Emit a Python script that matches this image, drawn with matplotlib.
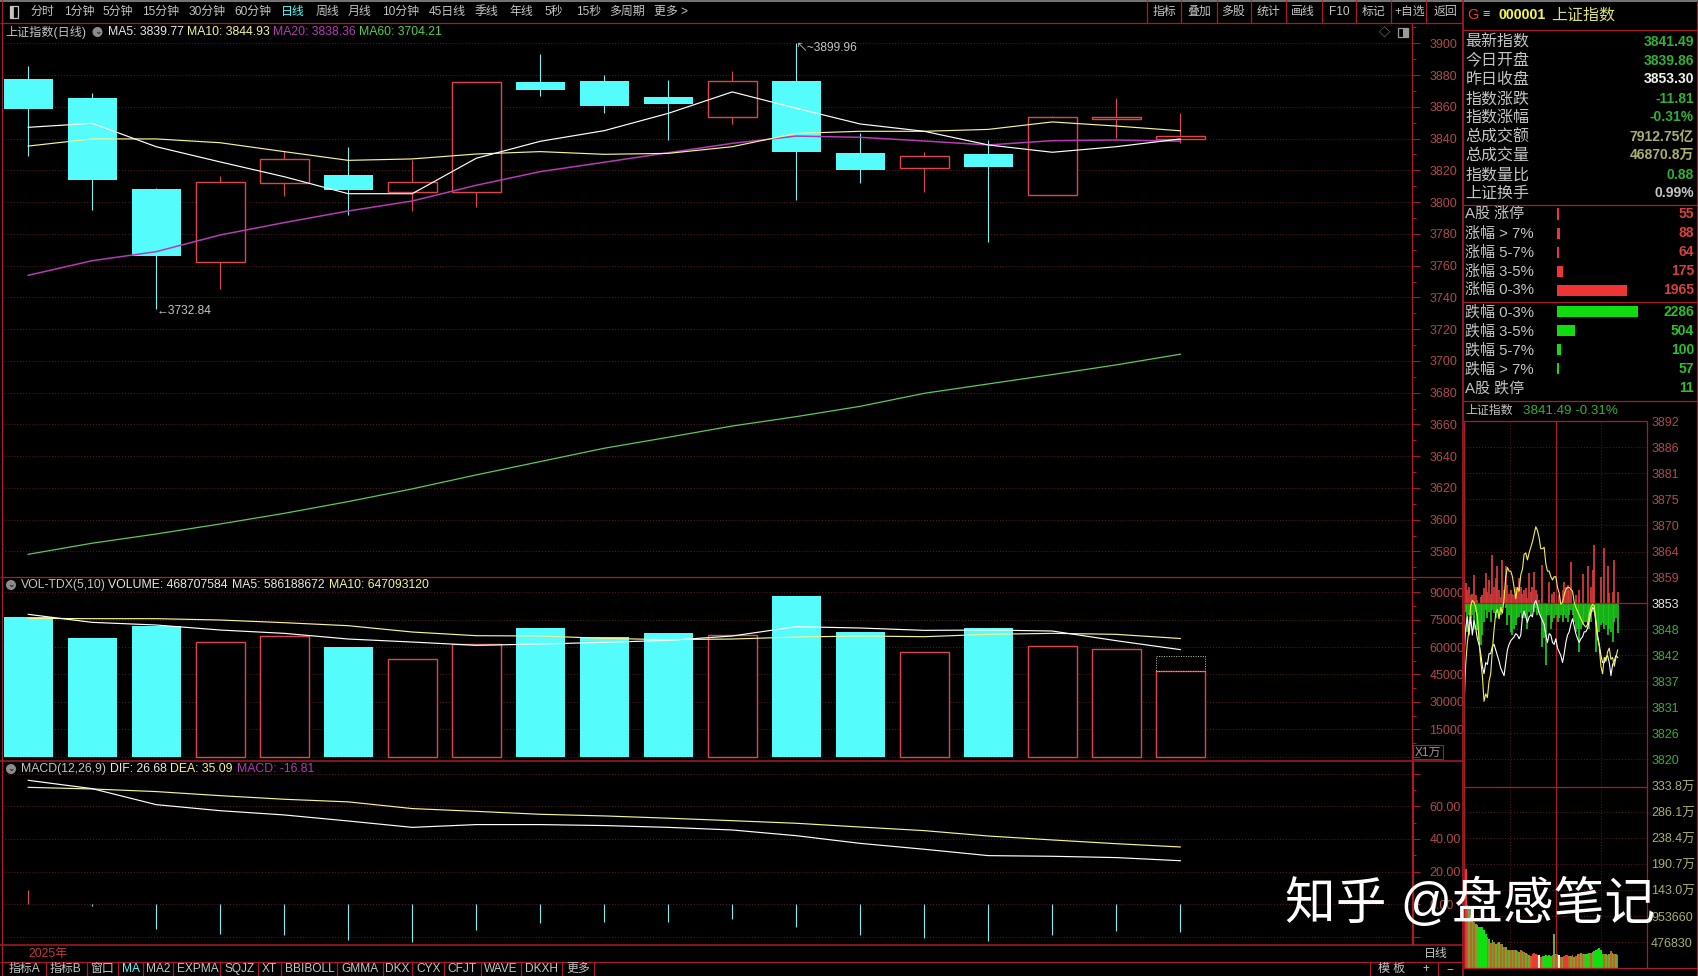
import numpy as np
import matplotlib
matplotlib.use("Agg")
import matplotlib.pyplot as plt
from matplotlib.ticker import MultipleLocator
from matplotlib.patches import Rectangle, Circle

plt.rcParams['font.family'] = ['Liberation Sans', 'Noto Sans CJK SC', 'DejaVu Sans']

# ---------- daily candles ----------
opens  = [3877.5,3865.6,3808.3,3762.1,3811.8,3817.1,3806.6,3806.2,3875.7,3876.3,3866.2,3853.8,3876.3,3830.9,3821.7,3830.3,3804.3,3852.1,3839.86]
closes = [3858.9,3814.1,3766.3,3812.5,3827.0,3807.6,3812.5,3875.4,3870.6,3860.5,3861.8,3876.1,3831.8,3820.2,3828.8,3822.3,3853.4,3853.4,3841.49]
highs  = [3885.7,3868.5,3808.8,3816.5,3832.4,3834.7,3826.3,3875.4,3893.3,3880.1,3876.9,3882.8,3899.96,3843.3,3831.4,3839.1,3854.0,3865.8,3856.3]
lows   = [3829.3,3795.0,3732.84,3745.3,3804.1,3791.9,3794.4,3797.1,3866.8,3856.3,3839.1,3849.2,3801.3,3812.3,3806.4,3775.1,3804.3,3840.2,3837.4]
ma5    = [3847.1,3849.6,3834.9,3825.3,3816.0,3805.3,3805.3,3827.6,3838.3,3845.0,3855.9,3869.4,3859.1,3849.2,3844.6,3836.0,3831.4,3834.9,3839.77]
ma10   = [3835.3,3839.8,3839.8,3837.4,3831.8,3826.3,3827.2,3830.3,3831.8,3830.1,3830.7,3834.9,3843.3,3844.6,3844.6,3845.8,3850.5,3847.9,3844.93]
ma20   = [3753.9,3763.1,3768.8,3779.3,3787.1,3794.4,3800.7,3810.6,3819.2,3825.1,3831.1,3837.0,3841.6,3840.8,3838.5,3836.0,3838.7,3839.1,3838.36]
ma60   = [3578.2,3585.2,3591.0,3597.3,3604.0,3611.4,3619.4,3628.2,3636.6,3645.0,3651.9,3659.0,3664.9,3671.4,3679.6,3685.5,3691.4,3697.5,3704.21]

# ---------- volume (x1万) ----------
volume = [76460,64960,71720,62770,66060,60040,53290,61680,70440,65330,67700,66600,87960,68250,57120,70440,60400,58760,46870]
vol_estimate = 54930
vol_ma5  = [77930,73550,72090,69350,67530,64420,62780,60960,61690,62600,63690,66070,71180,70450,69170,69350,68800,63510,58619]
vol_ma10 = [75740,75560,75560,74830,73370,71720,68260,66250,66070,64790,64060,64420,65520,66070,65700,66980,67530,66980,64709]

# ---------- MACD ----------
dif  = [75.9,70.8,61.0,57.3,54.7,51.0,47.1,48.8,48.8,48.2,47.1,45.5,42.0,37.3,33.7,29.8,29.4,28.6,26.68]
dea  = [71.6,70.6,69.0,66.5,64.3,62.7,58.6,56.9,55.1,54.1,52.7,51.2,49.6,47.3,45.1,41.8,39.4,37.1,35.09]
macd = [8.8,-1.0,-15.1,-18.2,-18.8,-21.9,-22.9,-15.7,-11.2,-10.6,-10.6,-8.9,-13.7,-18.8,-20.4,-22.2,-18.8,-16.4,-16.81]

# ---------- intraday ----------
prev_close = 3853.3
intraday_yellow = [3830.7,3840.2,3844.9,3847.6,3852.8,3853.9,3853.5,3852.4,3850.4,3845.7,3840.9,3837.8,3832.3,3833.9,3833.1,3836.6,3838.2,3843.3,3847.6,3851.2,3852.0,3850.0,3852.4,3851.2,3854.3,3859.0,3861.0,3860.2,3860.2,3859.0,3856.7,3854.3,3856.7,3855.9,3859.4,3860.6,3863.8,3864.1,3862.6,3864.1,3865.3,3866.5,3868.1,3869.7,3868.9,3867.3,3865.0,3865.0,3865.3,3861.8,3860.2,3860.2,3859.0,3858.3,3859.0,3859.0,3856.7,3855.5,3853.1,3853.5,3855.1,3856.3,3856.7,3856.7,3856.3,3855.9,3853.5,3852.4,3851.6,3850.8,3850.0,3849.2,3848.6,3848.2,3848.8,3850.8,3852.4,3853.1,3852.8,3848.8,3845.7,3844.1,3839.8,3838.2,3841.7,3840.9,3842.9,3843.7,3841.3,3841.7,3839.8,3841.7,3843.3]
intraday_white = [3841.7,3848.0,3850.4,3846.5,3850.4,3846.5,3849.6,3848.0,3845.7,3844.5,3842.5,3839.8,3838.2,3840.6,3840.2,3842.5,3842.5,3844.1,3844.5,3843.3,3842.1,3840.9,3839.4,3838.6,3837.8,3840.6,3843.3,3844.5,3845.3,3845.7,3846.1,3846.8,3846.5,3845.7,3846.5,3850.4,3851.6,3850.4,3849.2,3850.4,3850.8,3850.4,3853.1,3853.9,3852.8,3851.2,3850.4,3849.6,3848.8,3846.5,3844.9,3846.8,3846.5,3844.9,3844.5,3845.7,3843.7,3842.9,3842.1,3840.6,3842.5,3844.9,3846.5,3847.2,3848.8,3850.0,3848.4,3846.8,3845.7,3844.9,3845.7,3846.1,3847.2,3847.2,3848.0,3849.6,3851.2,3852.4,3852.0,3849.6,3846.5,3844.5,3842.1,3840.6,3840.6,3841.7,3842.1,3840.6,3837.8,3840.2,3840.9,3842.1,3841.7]
breadth_up_h = [4.6,4.3,2.9,3.6,1.8,2.1,6.1,1.8,0.7,0,1.4,1.8,3.2,6.4,2.5,5.0,2.1,10.4,3.6,5.4,7.9,2.9,1.4,9.3,2.9,7.9,3.9,2.1,2.9,2.1,1.8,3.6,2.9,5.4,3.6,2.1,2.9,3.2,1.1,6.4,2.5,3.6,6.8,2.9,2.1,0.7,0,8.2,0,0,0,4.6,0,2.1,2.5,0,0,1.8,0,2.9,4.6,3.6,3.9,2.9,8.9,0,0,1.8,0,2.9,0,6.2,0,0,7.9,0,3.6,7.1,12.6,0,0,0,5.7,0,11.8,0,7.9,2.3,0,2.5,9.3,0,2.5]
breadth_dn_h = [3.9,1.8,6.1,2.5,3.2,2.5,5.4,1.8,5.7,7.9,8.9,6.8,3.9,1.4,3.2,1.8,3.9,1.4,2.1,3.2,2.1,2.5,2.5,1.1,0,1.1,4.6,2.5,6.1,6.8,5.4,4.6,3.2,2.9,2.1,3.2,3.2,2.5,5.4,1.8,2.5,1.4,1.8,1.1,2.5,2.1,3.2,9.3,7.5,13.2,2.5,2.5,5.4,3.9,3.2,2.5,3.9,3.2,2.5,3.9,2.5,3.2,3.9,2.5,1.4,2.5,3.9,6.1,5.4,10.4,5.4,4.6,3.9,3.9,4.6,5.4,3.9,1.8,1.1,10.4,6.1,6.1,4.6,4.3,5.4,4.6,6.8,5.4,6.1,8.2,3.9,3.2,6.4]
mini_vol = [305,183,115.5,112.5,97.2,94.1,85,81.9,78.9,75.8,75.8,75.8,69.7,63.6,57.5,54.4,46.5,51.3,48.3,45.2,46.5,48.3,45.2,45.2,39.1,39.1,34.2,34.2,33,34.2,33,33,31.8,30,33,31.8,30.6,28.1,26.9,23.8,22,25.7,28.1,26.9,23.8,23.8,20.8,23.2,22.6,23.8,22.6,23.8,22.6,25.1,62.4,26.9,26.9,23.8,20.8,20.8,22,23.8,23.8,22.6,22,23.8,20.8,22,26.9,25.7,28.1,26.9,25.7,26.9,25.7,28.1,28.1,30,31.8,34.2,36.1,37.3,34.2,26.9,25.7,26.9,23.8,25.7,31.8,28.1,25.7,26.9,23.8]
mini_vol_side = "rr" + "mn"*3 + "g"*6 + "mn"*13 + "m" + "rrr" + "mwmn" + "g"*5 + "mnmnwmn" + "rrr" + "mn"*5 + "ggg" + "mn" + "g"*6 + "mnmnmnmnm"
mini_price_ticks = [3892.3,3886.7,3881.2,3875.6,3870.0,3864.4,3858.9,3853.3,3847.7,3842.2,3836.6,3831.0,3825.5,3819.9]
mini_price_labels = ['3892','3886','3881','3875','3870','3864','3859','3853','3848','3842','3837','3831','3826','3820']
mini_vol_ticks = [47.683,95.366,143.0,190.7,238.4,286.1,333.8]
mini_vol_labels = ['476830','953660','143.0万','190.7万','238.4万','286.1万','333.8万']

# ---------- panel text ----------
quote_labels = ['最新指数','今日开盘','昨日收盘','指数涨跌','指数涨幅','总成交额','总成交量','指数量比','上证换手']
quote_values = ['3841.49','3839.86','3853.30','-11.81','-0.31%','7912.75亿','46870.8万','0.88','0.99%']
up_labels = ['A股 涨停','涨幅 > 7%','涨幅 5-7%','涨幅 3-5%','涨幅 0-3%']
up_counts = [55,88,64,175,1965]
down_labels = ['跌幅 0-3%','跌幅 3-5%','跌幅 5-7%','跌幅 > 7%','A股 跌停']
down_counts = [2286,504,100,57,11]
top_tabs = ['分时','1分钟','5分钟','15分钟','30分钟','60分钟','日线','周线','月线','10分钟','45日线','季线','年线','5秒','15秒','多周期','更多 >']
right_tabs = ['指标','叠加','多股','统计','画线','F10','标记','+自选','返回']
bottom_tabs = ['指标A','指标B','窗口','MA','MA2','EXPMA','SQJZ','XT','BBIBOLL','GMMA','DKX','CYX','CFJT','WAVE','DKXH','更多']

# ---------- style / layout ----------
W, H = 1698, 976
BG = '#000000'; FRAME = '#a81c26'; GRID = '#5e1c20'; AXTXT = '#b04a4a'
TXT = '#c4c4c4'; CYAN = '#54fcfc'; RED = '#dc4848'; YEL = '#f4f490'; MAG = '#b43cb4'
GRN = '#34b034'; KHAKI = '#aeae6c'
DOT = (0, (1, 2))

fig = plt.figure(figsize=(W/100, H/100), dpi=100, facecolor=BG)

def make_ax(x0, x1, y0, y1):
    ax = fig.add_axes([x0/W, 1-y1/H, (x1-x0)/W, (y1-y0)/H], facecolor=BG)
    for s in ax.spines.values():
        s.set_visible(False)
    return ax

def style_right(ax, major, minor, fmt):
    ax.yaxis.tick_right()
    ax.yaxis.set_major_locator(MultipleLocator(major))
    ax.yaxis.set_minor_locator(MultipleLocator(minor))
    ax.yaxis.set_major_formatter(fmt)
    ax.tick_params(axis='y', which='major', length=5.5, width=0.7, color=FRAME, labelcolor=AXTXT, labelsize=9, pad=7)
    ax.tick_params(axis='y', which='minor', length=2.8, width=0.7, color=FRAME)
    ax.set_xticks([])
    ax.set_axisbelow(True)
    ax.grid(axis='y', which='major', color=GRID, lw=0.7, ls=DOT)

n = len(opens)
idx = np.arange(n)
XL = (-0.409, 21.62)
BW = 0.766
LW1 = 0.8

# main panel
ax = make_ax(2, 1412, 23, 576.7)
ax.set_xlim(*XL); ax.set_ylim(3564.1, 3912.8)
style_right(ax, 20, 10, lambda v, p: f'{v:.0f}')
ax.set_ylim(3564.1, 3912.8)
for i in idx:
    o_, c, h, l = opens[i], closes[i], highs[i], lows[i]
    top, bot = max(o_, c), min(o_, c)
    if c < o_:
        ax.vlines(i, l, h, color='#7ff0f0', lw=LW1, zorder=2)
        ax.bar(i, top-bot, BW, bot, color=CYAN, lw=0, zorder=3)
    else:
        ax.vlines(i, top, h, color=RED, lw=LW1, zorder=2)
        ax.vlines(i, l, bot, color=RED, lw=LW1, zorder=2)
        ax.bar(i, top-bot, BW, bot, facecolor=BG, edgecolor=RED, lw=1.0, zorder=3)
ax.plot(idx, ma60, color='#5cc85c', lw=0.9, zorder=4)
ax.plot(idx, ma20, color=MAG, lw=1.1, zorder=4)
ax.plot(idx, ma10, color=YEL, lw=0.85, zorder=5)
ax.plot(idx, ma5, color='#ffffff', lw=0.85, zorder=6)
ax.annotate('↖~3899.96', xy=(12, 3899.96), xytext=(0, -3.2), textcoords='offset points', color=TXT, fontsize=8.6, va='center', ha='left', zorder=7)
ax.annotate('←3732.84', xy=(2, 3732.84), xytext=(0, -1.5), textcoords='offset points', color=TXT, fontsize=8.6, va='center', ha='left', zorder=7)

# volume panel
axv = make_ax(2, 1412, 576.7, 760.7)
axv.set_xlim(*XL); axv.set_ylim(-2190, 98540)
style_right(axv, 15000, 7500, lambda v, p: f'{v:.0f}' if v > 0 else '')
axv.set_ylim(-2190, 98540)
for i in idx:
    if closes[i] < opens[i]:
        axv.bar(i, volume[i], BW, color=CYAN, lw=0, zorder=3)
    else:
        axv.bar(i, volume[i], BW, facecolor=BG, edgecolor=RED, lw=1.0, zorder=3)
axv.bar(idx[-1], vol_estimate-volume[-1], BW, volume[-1], facecolor='none', edgecolor='#c8c890', lw=0.7, ls=(0, (1, 1.5)), zorder=3)
axv.plot(idx, vol_ma10, color=YEL, lw=0.85, zorder=4)
axv.plot(idx, vol_ma5, color='#ffffff', lw=0.85, zorder=5)

# MACD panel
axm = make_ax(2, 1412, 760.7, 945)
axm.set_xlim(*XL); axm.set_ylim(-24.9, 87.9)
style_right(axm, 20, 10, lambda v, p: f'{v:.2f}' if 0 <= v <= 60 else '')
axm.set_ylim(-24.9, 87.9)
axm.vlines(idx, 0, macd, colors=['#e05050' if v > 0 else '#7ff0f0' for v in macd], lw=0.8, zorder=3)
axm.plot(idx, dea, color=YEL, lw=0.85, zorder=4)
axm.plot(idx, dif, color='#ffffff', lw=0.85, zorder=5)

# breadth bars
BX = (1557, 1694)
SCALE = 3848
axu = make_ax(BX[0], BX[1], 204.5, 301.7)
axu.set_xlim(0, SCALE); axu.set_ylim(4.61, -0.5); axu.axis('off')
axu.barh(range(5), up_counts, 0.58, color='#f03434')
axd = make_ax(BX[0], BX[1], 301.7, 400.7)
axd.set_xlim(0, SCALE); axd.set_ylim(4.67, -0.54); axd.axis('off')
axd.barh(range(5), down_counts, 0.58, color='#10dc10')

# intraday price
axi = make_ax(1464, 1647, 421.3, 786.5)
axi.set_xlim(0, 109.6); axi.set_ylim(3814.05, 3892.25)
axi.yaxis.tick_right()
axi.set_yticks(mini_price_ticks, mini_price_labels)
axi.set_xticks([27.4, 54.8, 82.2])
axi.tick_params(axis='x', length=0, labelbottom=False)
axi.tick_params(axis='y', length=0, labelsize=9, pad=3)
for lab, v in zip(axi.get_yticklabels(), mini_price_ticks):
    lab.set_color('#e8e8e8' if abs(v-prev_close) < 0.1 else (AXTXT if v > prev_close else GRN))
axi.set_axisbelow(True)
axi.grid(True, color=GRID, lw=0.7, ls=DOT)
k = np.arange(len(intraday_white))
axi.vlines(k, prev_close, prev_close+np.array(breadth_up_h), color='#dc3c3c', lw=1.25, zorder=2)
axi.vlines(k, prev_close-np.array(breadth_dn_h), prev_close, color='#1ccc1c', lw=1.25, zorder=2)
axi.axhline(prev_close, color=FRAME, lw=0.9, zorder=3)
axi.axvline(54.8, color=FRAME, lw=0.9, zorder=1)
axi.plot(k, intraday_white, color='#ffffff', lw=0.8, zorder=4)
axi.plot(k, intraday_yellow, color='#f0f050', lw=0.8, zorder=5)

# intraday volume
axq = make_ax(1464, 1647, 786.5, 968.3)
axq.set_xlim(0, 109.6); axq.set_ylim(0, 333.4)
axq.yaxis.tick_right()
axq.set_yticks(mini_vol_ticks, mini_vol_labels)
axq.set_xticks([27.4, 54.8, 82.2])
axq.tick_params(axis='x', length=0, labelbottom=False)
axq.tick_params(axis='y', length=0, labelsize=9, pad=3, labelcolor=KHAKI)
axq.set_axisbelow(True)
axq.grid(True, color=GRID, lw=0.7, ls=DOT)
axq.axvline(54.8, color=FRAME, lw=0.9, zorder=1)
side_col = {'r': '#ec3a30', 'g': '#10e010', 'm': '#c8602c', 'n': '#6ea82e', 'w': '#e8f0e0'}
axq.bar(np.arange(len(mini_vol)), mini_vol, 1.0, color=[side_col[s] for s in mini_vol_side], lw=0, zorder=3)

# overlay: chrome, text, watermark
o = fig.add_axes([0, 0, 1, 1], facecolor='none', zorder=10)
o.set_xlim(0, W); o.set_ylim(H, 0); o.axis('off')

def hl(y, x0=0, x1=W, c=FRAME, lw=0.9):
    o.plot([x0, x1], [y, y], color=c, lw=lw, solid_capstyle='butt')
def vl(x, y0, y1, c=FRAME, lw=0.9):
    o.plot([x, x], [y0, y1], color=c, lw=lw, solid_capstyle='butt')
def t(x, y, s, c=TXT, fs=8.4, ha='left', **kw):
    o.text(x, y, s, color=c, fontsize=fs, ha=ha, va='center', **kw)

hl(0.5, c='#8a8a8a', lw=1.2)
hl(22.7, 0, 1463)
hl(576.7, 0, 1463)
hl(760.7, 0, 1463, lw=1.1)
hl(945, 0, 1463, lw=1.1)
hl(961.7, 0, 1463)
hl(30, 1463, W)
hl(204.5, 1463, W); hl(301.7, 1463, W); hl(400.7, 1463, W)
hl(421.3, 1464, 1647); hl(786.5, 1464, 1647); hl(968.3, 1464, W)
vl(2, 0, 976)
vl(1412.5, 22.7, 760.7); vl(1413, 760.7, 945, lw=1.6)
vl(1463, 0, 976, lw=1.2)
vl(1464.5, 421.3, 968.3); vl(1647, 421.3, 968.3)
vl(1697, 0, 976)

# top toolbar
tab_x = [42,79,118,161,207,253,293,327,360,401,447,486,521,554,589,627,671]
for x, s in zip(tab_x, top_tabs):
    t(x, 12, s, CYAN if s == '日线' else TXT, 8.6, 'center')
o.add_patch(Rectangle((10, 6), 8, 12, fc='none', ec=TXT, lw=0.9))
o.add_patch(Rectangle((10, 6), 3, 12, fc=TXT, ec=TXT, lw=0.5))
for x in [1147,1181.5,1217,1251,1286,1322,1356,1391,1426.5]:
    vl(x, 0, 22.7)
for x, s in zip([1165,1199,1233,1268,1303,1339,1373.5,1410,1445], right_tabs):
    t(x, 12, s, TXT, 8.6, 'center')

# main header
t(5, 32, '上证指数(日线)', TXT, 8.7)
def chip(x, y):
    o.add_patch(Circle((x, y), 5, fc='#8c8c8c', ec='none'))
    o.text(x, y-0.5, '⌄', color='#101010', fontsize=6.5, ha='center', va='center')
chip(97.5, 32)
t(108, 32, 'MA5: 3839.77', '#e8e8e8', 8.8)
t(187, 32, 'MA10: 3844.93', YEL, 8.8)
t(273, 32, 'MA20: 3838.36', MAG, 8.8)
t(359, 32, 'MA60: 3704.21', '#50d050', 8.8)
t(1384, 32.5, '◇', '#9a9a9a', 8, 'center')
o.add_patch(Rectangle((1398, 28), 10, 9, fc='none', ec='#9a9a9a', lw=0.9))
o.add_patch(Rectangle((1403, 28), 5, 9, fc='#9a9a9a', ec='none'))

# volume header
chip(11, 585)
t(21, 585, 'VOL-TDX(5,10)', TXT, 8.8)
t(108, 585, 'VOLUME: 468707584', '#e8e8e8', 8.8)
t(232, 585, 'MA5: 586188672', '#e8e8e8', 8.8)
t(329, 585, 'MA10: 647093120', YEL, 8.8)
o.add_patch(Rectangle((1413, 745), 30, 14, fc='none', ec='#6a3a3a', lw=0.8))
t(1428, 752.5, 'X1万', '#a89090', 8.6, 'center')

# macd header
chip(11, 769)
t(21, 769, 'MACD(12,26,9)', TXT, 8.8)
t(110, 769, 'DIF: 26.68', '#e8e8e8', 8.8)
t(170, 769, 'DEA: 35.09', YEL, 8.8)
t(237, 769, 'MACD: -16.81', MAG, 8.8)

# date strip
t(28, 953.5, '2025年', '#c03c3c', 8.8)
t(1436, 953.5, '日线', TXT, 8.6, 'center')

# bottom tabs
for x, s in zip([24.5,66,102,131,158,198,240,269,310,360,397,429,462,500.5,542,578], bottom_tabs):
    t(x, 969, s, CYAN if s == 'MA' else TXT, 8.6, 'center')
for x in [46,87,118,143,173.5,220,258,281,337,383,412,444,481,521,562,594,1370,1438]:
    vl(x, 961.7, 976)
t(1392, 969, '模 板', TXT, 8.6, 'center')
t(1426, 969, '+', TXT, 8.6, 'center')
t(1450, 969, '−', TXT, 8.6, 'center')

# quote panel
t(1473, 15, 'G', '#e03c3c', 10.5, 'center')
t(1486, 15, '≡', '#c8d850', 9, 'center')
t(1499, 15, '000001', '#f4f44c', 10.2, fontweight='bold')
t(1551, 15, '上证指数', '#e0e070', 11.5)
quote_cols = [GRN, GRN, '#f0f0f0', GRN, GRN, KHAKI, KHAKI, GRN, TXT]
for y, lab, val, col in zip([41.7,60.7,79.3,98.7,117.3,136.7,155.3,174.7,193.3], quote_labels, quote_values, quote_cols):
    t(1465.5, y, lab, TXT, 11.5)
    t(1694, y, val, col, 10, 'right', fontweight='bold')
for y, lab, val in zip([214,233.3,252.3,271.3,290], up_labels, up_counts):
    t(1465.5, y, lab, TXT, 10.8)
    t(1694, y, str(val), '#d84040', 10, 'right', fontweight='bold')
for y, lab, val in zip([312,331,350,369,388], down_labels, down_counts):
    t(1465.5, y, lab, TXT, 10.8)
    t(1694, y, str(val), '#2cc02c', 10, 'right', fontweight='bold')

# intraday header
t(1465, 411, '上证指数', TXT, 8.6)
t(1522.6, 411, '3841.49 -0.31%', GRN, 9.6)

# watermark
o.text(1470, 905, '知乎 @盘感笔记', color='white', fontsize=36.5, ha='center', va='center', fontweight='medium')

fig.savefig('out.png', dpi=100, facecolor=BG)
